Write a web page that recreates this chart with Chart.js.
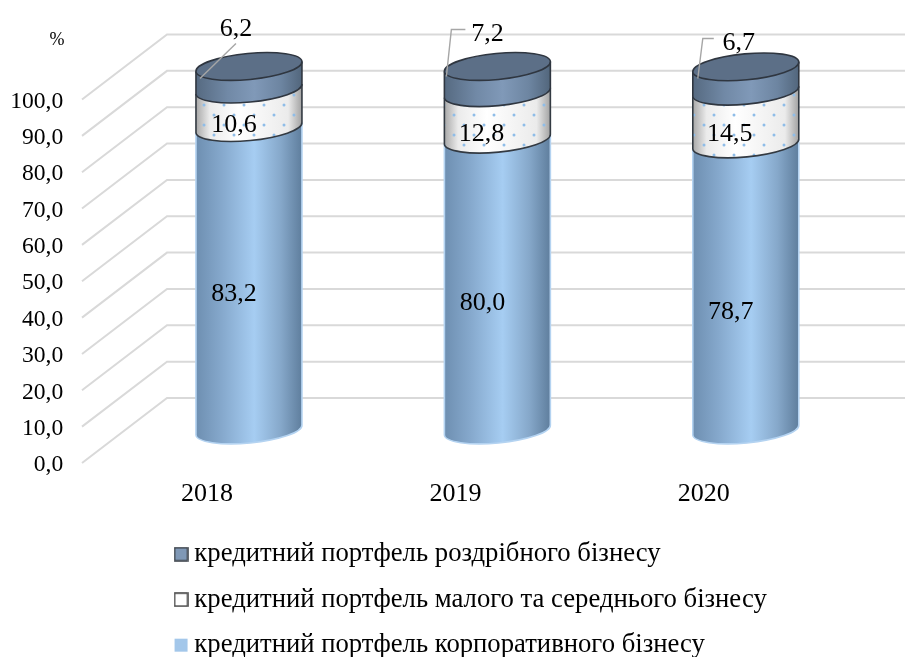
<!DOCTYPE html>
<html><head><meta charset="utf-8">
<script src="https://cdn.jsdelivr.net/npm/chart.js@4"></script>
<style>html,body{margin:0;padding:0;background:#fff}canvas{display:block}</style>
</head><body><canvas id="c" width="905" height="657"></canvas>
<script>
const categories = ['2018','2019','2020'];
const corporate = [83.2,80.0,78.7];
const sme = [10.6,12.8,14.5];
const retail = [6.2,7.2,6.7];
const seriesNames = ['кредитний портфель корпоративного бізнесу','кредитний портфель малого та середнього бізнесу','кредитний портфель роздрібного бізнесу'];
const yTickLabels = ['0,0','10,0','20,0','30,0','40,0','50,0','60,0','70,0','80,0','90,0','100,0'];
const unitLabel = '%';
// label nudges relative to bar centre / segment middle
const labelNudges = [
  [[-15,15],[-15,19],[-15,25]],
  [[-15,17],[-16,18],[-16,16.5]],
  [[-13,-49],[-10,-45],[-7,-36]]
];
const leaderNudges = [[[-13,-35],[-49,0]],[[-32,-49],[-46,-49],[-51,-2]],[[-32,-40],[-43,-40],[-48,0]]];

const SERIF = '"Liberation Serif","Times New Roman",serif';
const fmt = v => v.toFixed(1).replace('.',',');

function dotPattern(ctx){
  const c = document.createElement('canvas'); c.width = 40; c.height = 40;
  const g = c.getContext('2d'); g.fillStyle = '#8fbde8';
  [[4,5],[24,5],[14,15],[34,15],[4,25],[24,25],[14,35],[34,35]].forEach(p=>{
    g.beginPath(); g.arc(p[0],p[1],1.5,0,Math.PI*2); g.fill();
  });
  return ctx.createPattern(c,'repeat');
}
function legendIcon(fill,stroke){
  const c = document.createElement('canvas'); c.width = 15; c.height = 15;
  const g = c.getContext('2d');
  g.fillStyle = fill; g.fillRect(1,1,13,13);
  if(stroke){ g.strokeStyle = stroke; g.lineWidth = 1.6; g.strokeRect(1,1,13,13); }
  return c;
}
const icons = [legendIcon('#a3c7ea',null),legendIcon('#ffffff','#4a4a4a'),legendIcon('#7f98b6','#3f454d')];

const styles = [
  {stops:[[0,'#6e8fb1'],[.25,'#86a9cd'],[.55,'#a6cdf2'],[.8,'#86a8ca'],[1,'#5f7e9d']],edge:null},
  {stops:[[0,'#a8a8a8'],[.13,'#ebebeb'],[.4,'#ffffff'],[.87,'#ebebeb'],[1,'#a2a2a2']],edge:'#333a42',dots:true},
  {stops:[[0,'#566a81'],[.3,'#7189a6'],[.55,'#8099b8'],[.8,'#6d85a1'],[1,'#52667c']],edge:'#2f3640',cap:'#5c6f87'}
];
const TILT = -5.4*Math.PI/180, RY = 13;

const wall = {
  id:'wall',
  beforeDatasetsDraw(chart){
    const {ctx,scales:{y}} = chart;
    ctx.save(); ctx.strokeStyle='#d9d9d9'; ctx.lineWidth=2;
    y.ticks.forEach(t=>{
      const p=y.getPixelForValue(t.value);
      ctx.beginPath(); ctx.moveTo(82,p+65); ctx.lineTo(167,p); ctx.lineTo(905,p); ctx.stroke();
    });
    ctx.restore();
    ctx.save(); ctx.fillStyle='#000'; ctx.font='18px '+SERIF; ctx.textAlign='center'; ctx.textBaseline='middle';
    ctx.fillText(unitLabel,57,40); ctx.restore();
  }
};
const cylinders = {
  id:'cylinders',
  afterDatasetsDraw(chart){
    const {ctx,scales:{yBar}} = chart;
    const n = categories.length;
    const vals = chart.data.datasets.map(d=>d.data);
    for(let i=0;i<n;i++){
      const el = chart.getDatasetMeta(0).data[i];
      const cx = el.x, rx = el.width/2;
      let sum = 0;
      vals.forEach((arr,s)=>{
        const st = styles[s];
        const yb = yBar.getPixelForValue(sum), yt = yBar.getPixelForValue(sum+arr[i]);
        const path = ()=>{
          ctx.beginPath();
          ctx.moveTo(cx-rx,yt+5); ctx.lineTo(cx-rx,yb+5);
          ctx.ellipse(cx,yb,rx/Math.cos(TILT),RY,TILT,Math.PI,0,true);
          ctx.lineTo(cx+rx,yt-5); ctx.closePath();
        };
        const g = ctx.createLinearGradient(cx-rx,0,cx+rx,0);
        st.stops.forEach(p=>g.addColorStop(p[0],p[1]));
        path(); ctx.fillStyle=g; ctx.fill();
        if(st.dots){ path(); ctx.fillStyle=dotPattern(ctx); ctx.fill(); }
        ctx.lineWidth=1.6;
        ctx.strokeStyle = st.edge || '#b4d3f1';
        ctx.beginPath(); ctx.moveTo(cx-rx,yt+5); ctx.lineTo(cx-rx,yb+5);
        ctx.ellipse(cx,yb,rx/Math.cos(TILT),RY,TILT,Math.PI,0,true);
        ctx.lineTo(cx+rx,yt-5); ctx.stroke();
        if(st.cap){
          ctx.beginPath(); ctx.ellipse(cx,yt,rx/Math.cos(TILT),RY,TILT,0,Math.PI*2);
          ctx.fillStyle=st.cap; ctx.fill(); ctx.strokeStyle=st.edge; ctx.stroke();
        }
        sum += arr[i];
      });
      // leader lines and value labels
      sum = 0;
      vals.forEach((arr,s)=>{
        const mid = yBar.getPixelForValue(sum+arr[i]/2);
        sum += arr[i];
        if(s===2){
          ctx.save(); ctx.strokeStyle='#a6a6a6'; ctx.lineWidth=1.4; ctx.beginPath();
          leaderNudges[i].forEach((p,k)=>{ const X=cx+p[0],Y=yBar.getPixelForValue(100)+p[1]+12; k?ctx.lineTo(X,Y):ctx.moveTo(X,Y); });
          ctx.stroke(); ctx.restore();
        }
        ctx.save(); ctx.fillStyle='#000'; ctx.font='26px '+SERIF; ctx.textAlign='center'; ctx.textBaseline='middle';
        ctx.fillText(fmt(arr[i]),cx+labelNudges[s][i][0],mid+labelNudges[s][i][1]);
        ctx.restore();
      });
    }
  }
};
const legendPlace = {
  id:'legendPlace',
  beforeDraw(chart){
    const l = chart.legend;
    l.left=162.2; l.right=900; l.top=522; l.bottom=800; l.width=737; l.height=278;
  }
};
Chart.defaults.animation=false;
new Chart(document.getElementById('c'),{
  type:'bar',
  data:{labels:categories,datasets:[corporate,sme,retail].map((d,i)=>({
    label:seriesNames[i],data:d,yAxisID:'yBar',stack:'s',
    backgroundColor:'transparent',borderWidth:0,barPercentage:.4266,categoryPercentage:1
  }))},
  options:{
    responsive:false,animation:false,
    layout:{padding:{top:34.5,right:35,left:0,bottom:0}},
    plugins:{
      tooltip:{enabled:false},
      legend:{
        position:'chartArea',align:'start',reverse:true,
        labels:{
          boxWidth:0.01,boxHeight:15,padding:18.8,color:'#000',usePointStyle:true,
          font:{family:SERIF,size:26.7,lineHeight:1.15},
          generateLabels:ch=>ch.data.datasets.map((d,i)=>({text:d.label,datasetIndex:i,pointStyle:icons[i],fontColor:'#000',hidden:false,lineWidth:0,strokeStyle:'transparent',fillStyle:'transparent'}))
        }
      }
    },
    scales:{
      x:{type:'category',stacked:true,grid:{display:false},border:{display:false},
        afterFit:s=>{s.height=259;},
        ticks:{color:'#000',font:{family:SERIF,size:26},padding:73,labelOffset:-42,maxRotation:0}},
      y:{type:'linear',position:'left',min:0,max:100,grid:{display:false},border:{display:false},
        afterFit:s=>{s.width=124.75;s.paddingTop=0;s.paddingBottom=0;},
        ticks:{stepSize:10,color:'#000',font:{family:SERIF,size:23.6},padding:53.5,labelOffset:67,
          callback:(v)=>yTickLabels[Math.round(v/10)]}},
      yBar:{type:'linear',display:false,stacked:true,min:8.8,max:108.8}
    }
  },
  plugins:[wall,cylinders,legendPlace]
});
</script></body></html>
